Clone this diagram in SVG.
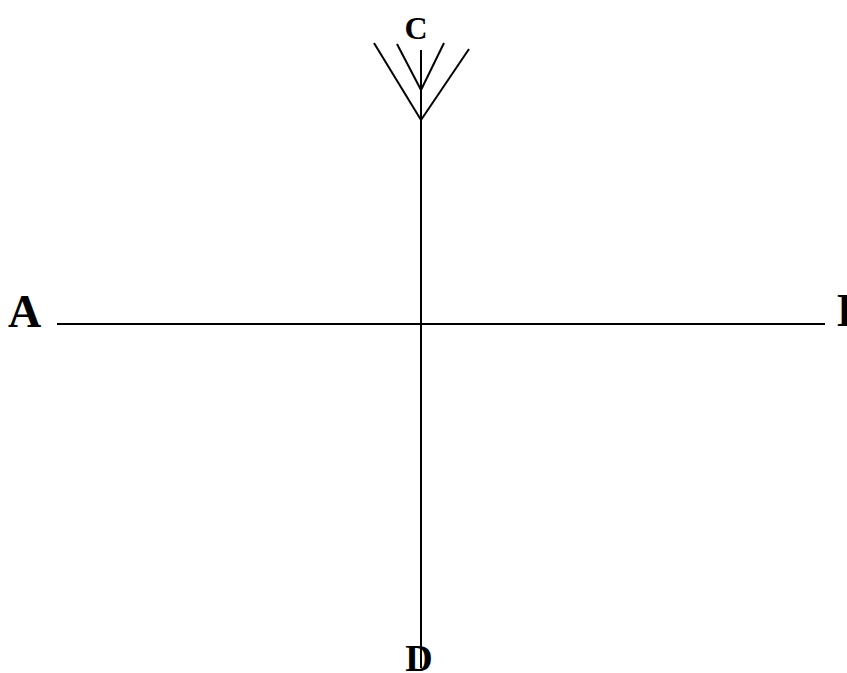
<svg xmlns="http://www.w3.org/2000/svg" width="847" height="673" viewBox="0 0 847 673">
<style>
.ln{stroke:#000;stroke-width:2;fill:none}
.lbl{font-family:"Liberation Serif",serif;font-weight:bold;fill:#000}
</style>
<rect width="847" height="673" fill="#fff"/>
<g id="connectors">
<line class="ln" x1="57" y1="324" x2="825" y2="324"/>
<line class="ln" x1="421" y1="50" x2="421" y2="668"/>
<line class="ln" x1="374" y1="43" x2="421" y2="120"/>
<line class="ln" x1="469" y1="49" x2="421" y2="120"/>
<line class="ln" x1="397" y1="44" x2="421" y2="90"/>
<line class="ln" x1="444" y1="43" x2="421" y2="90"/>
</g>
<g id="node-A"><text class="lbl" x="8" y="327" font-size="46">A</text></g>
<g id="node-B"><text class="lbl" x="837" y="326" font-size="46">B</text></g>
<g id="node-C"><text class="lbl" x="416" y="39" font-size="32" text-anchor="middle">C</text></g>
<g id="node-D"><text class="lbl" x="419" y="671" font-size="38" text-anchor="middle">D</text></g>
</svg>
